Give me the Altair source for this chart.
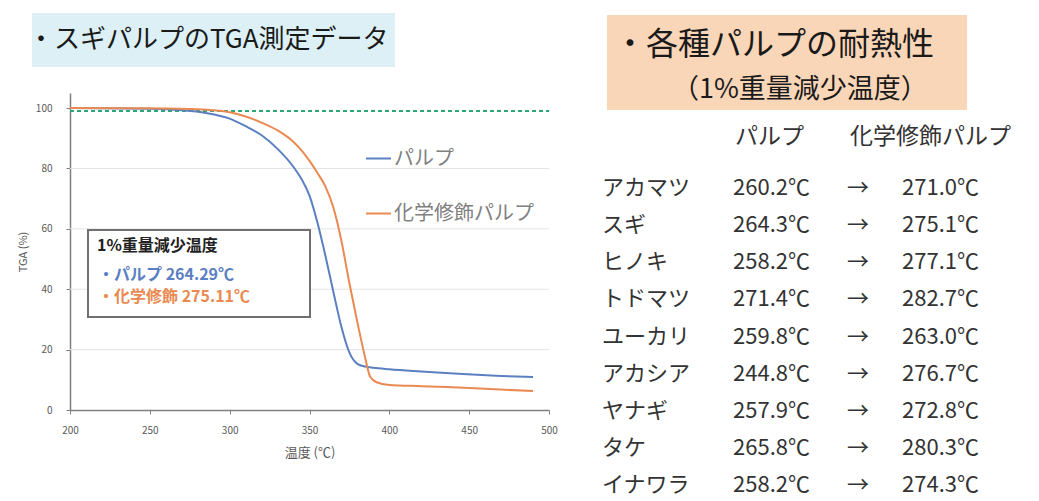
import altair as alt
import pandas as pd

# ---------------- data ----------------
series_names = ["パルプ", "化学修飾パルプ"]
series_colors = ["#5b80c2", "#ea8a52"]

temp_pulp = [200, 250, 270, 285, 300, 310, 320, 330, 340, 345, 350, 355, 360, 365, 370, 375, 380, 385, 390, 400, 415, 430, 446, 470, 490]
tga_pulp = [100, 99.8, 99.3, 98.4, 96.5, 94, 91, 86.5, 80.5, 76.5, 71, 62, 51, 39, 27.5, 19, 15.3, 14.4, 14.0, 13.5, 12.9, 12.4, 11.9, 11.3, 10.9]

temp_mod = [200, 260, 290, 300, 310, 320, 330, 340, 345, 350, 355, 360, 365, 370, 375, 380, 385, 388, 392, 400, 420, 436, 460, 490]
tga_mod = [100, 99.9, 99.3, 98.6, 97.2, 95.2, 92.6, 88.8, 86, 82.5, 78.5, 74, 67, 56, 42, 29, 17, 11, 9.2, 8.3, 7.9, 7.6, 7.0, 6.3]

x_ticks = [200, 250, 300, 350, 400, 450, 500]
y_ticks = [0, 20, 40, 60, 80, 100]
grid_levels = [20, 40, 60, 80]
loss_line = [99]          # 1% weight-loss level

inset_title = "1%重量減少温度"
inset_pulp = "・パルプ 264.29℃"
inset_mod = "・化学修飾 275.11℃"

species = ["アカマツ", "スギ", "ヒノキ", "トドマツ", "ユーカリ", "アカシア", "ヤナギ", "タケ", "イナワラ"]
pulp_temp = [260.2, 264.3, 258.2, 271.4, 259.8, 244.8, 257.9, 265.8, 258.2]
mod_temp = [271.0, 275.1, 277.1, 282.7, 263.0, 276.7, 272.8, 280.3, 274.3]
table_headers = ["パルプ", "化学修飾パルプ"]

title_left = "・スギパルプのTGA測定データ"
title_right_1 = "・各種パルプの耐熱性"
title_right_2 = "（1%重量減少温度）"

# ---------------- layout ----------------
W, H = 1023, 493
FONT = "Noto Sans CJK JP"
X_RANGE = [62, 541]
Y_RANGE = [402, 85]

curve_df = pd.DataFrame({
    "温度": temp_pulp + temp_mod,
    "TGA": tga_pulp + tga_mod,
    "系列": [series_names[0]] * len(temp_pulp) + [series_names[1]] * len(temp_mod),
})

xscale = alt.Scale(domain=[x_ticks[0], x_ticks[-1]], range=X_RANGE, nice=False, zero=False)
yscale = alt.Scale(domain=[0, 105], range=Y_RANGE, nice=False, zero=False)

x_axis = alt.Axis(values=x_ticks, orient="bottom", offset=-(H - Y_RANGE[0]), title="温度 (℃)", grid=False,
                  titleFont=FONT, titleFontSize=13, titleColor="#595959", titleFontWeight="normal",
                  titlePadding=11, labelFont=FONT, labelFontSize=10, labelColor="#595959",
                  labelPadding=11, labelFlush=False, domainColor="#808080", domainWidth=1.5,
                  tickColor="#808080", tickSize=4)
y_axis = alt.Axis(values=y_ticks, orient="left", offset=-X_RANGE[0], title="TGA (%)", grid=False,
                  titleFont=FONT, titleFontSize=11, titleColor="#595959", titleFontWeight="normal",
                  titlePadding=7, labelFont=FONT, labelFontSize=10, labelColor="#595959",
                  labelPadding=14, labelFlush=False, domainColor="#808080", domainWidth=1.5,
                  tickColor="#808080", tickSize=4)

grid_df = pd.DataFrame({"温度": [x_ticks[0]] * len(grid_levels), "x1": [x_ticks[-1]] * len(grid_levels),
                        "TGA": grid_levels})
grid = alt.Chart(grid_df).mark_rule(color="#e4e4e4", strokeWidth=1).encode(
    x=alt.X("温度:Q", scale=xscale, axis=x_axis),
    x2="x1:Q",
    y=alt.Y("TGA:Q", scale=yscale, axis=y_axis),
)

loss_df = pd.DataFrame({"温度": [x_ticks[0]], "x1": [x_ticks[-1]], "TGA": loss_line})
loss_rule = alt.Chart(loss_df).mark_rule(color="#2aa876", strokeWidth=2, strokeDash=[4, 3]).encode(
    x=alt.X("温度:Q", scale=xscale, axis=x_axis),
    x2="x1:Q",
    y=alt.Y("TGA:Q", scale=yscale, axis=y_axis),
)

lines = alt.Chart(curve_df).mark_line(strokeWidth=2, interpolate="monotone").encode(
    x=alt.X("温度:Q", scale=xscale, axis=x_axis),
    y=alt.Y("TGA:Q", scale=yscale, axis=y_axis),
    color=alt.Color("系列:N", sort=series_names,
                    scale=alt.Scale(domain=series_names, range=series_colors),
                    legend=alt.Legend(orient="none", legendX=357, legendY=137, title=None,
                                      symbolType="stroke", symbolSize=625, symbolStrokeWidth=2,
                                      labelFont=FONT, labelFontSize=20, labelColor="#7f7f7f",
                                      labelOffset=2, rowPadding=31, padding=0)),
)

tga_chart = alt.layer(grid, loss_rule, lines)

# ---------------- annotations ----------------
def txt(text, x, y, size, color="#1a1a1a", weight="normal", align="left"):
    return alt.Chart().mark_text(font=FONT, fontSize=size, color=color, fontWeight=weight,
                                 align=align, baseline="middle").encode(
        x=alt.value(x), y=alt.value(y), text=alt.value(text))

def box(x, x2, y, y2, fill, stroke=None, sw=0):
    kw = dict(fill=fill)
    if stroke:
        kw.update(stroke=stroke, strokeWidth=sw)
    return alt.Chart().mark_rect(**kw).encode(
        x=alt.value(x), x2=alt.value(x2), y=alt.value(y), y2=alt.value(y2))

left_title_bg = box(24, 387, 5, 59, "#dcf0f5")
left_title = txt(title_left, 20, 32, 26)
right_title_bg = box(599, 959, 7, 102, "#fad6b8")
right_title_1 = txt(title_right_1, 606, 37, 32)
right_title_2 = txt(title_right_2, 664, 82, 27)

inset_box = box(80, 302, 222, 309, "white", "#707070", 2)
inset_t1 = txt(inset_title, 89, 238, 16, "#222222", "bold")
inset_t2 = txt(inset_pulp, 90, 267, 16, series_colors[0], "bold")
inset_t3 = txt(inset_mod, 90, 289, 16, series_colors[1], "bold")

# ---------------- table ----------------
table_df = pd.DataFrame({
    "樹種": species,
    "パルプ": [f"{v:.1f}℃" for v in pulp_temp],
    "化学修飾": [f"{v:.1f}℃" for v in mod_temp],
})
yrow = alt.Scale(type="point", domain=species, range=[180, 477], padding=0)

def col(field, x, align="left"):
    return alt.Chart(table_df).mark_text(font=FONT, fontSize=22, color="#333333",
                                         align=align, baseline="middle").encode(
        x=alt.value(x),
        y=alt.Y("樹種:N", scale=yrow, axis=None, sort=species),
        text=field,
    )

col_name = col("樹種:N", 594)
col_pulp = col("パルプ:N", 725)
col_arrow = alt.Chart(table_df).mark_text(font=FONT, fontSize=22, color="#333333",
                                          align="center", baseline="middle").encode(
    x=alt.value(850),
    y=alt.Y("樹種:N", scale=yrow, axis=None, sort=species),
    text=alt.value("→"),
)
col_mod = col("化学修飾:N", 894)
table = alt.layer(col_name, col_pulp, col_arrow, col_mod)

hdr1 = txt(table_headers[0], 727, 129, 23, "#333333")
hdr2 = txt(table_headers[1], 842, 129, 23, "#333333")

chart = alt.layer(
    left_title_bg, left_title, right_title_bg, right_title_1, right_title_2,
    tga_chart, inset_box, inset_t1, inset_t2, inset_t3,
    table, hdr1, hdr2,
).resolve_scale(x="independent", y="independent").properties(
    width=W, height=H, autosize=alt.AutoSizeParams(type="none"), padding=0, background="white"
).configure_view(stroke=None)

chart.save("out.html", embed_options={"renderer": "svg", "actions": False})
